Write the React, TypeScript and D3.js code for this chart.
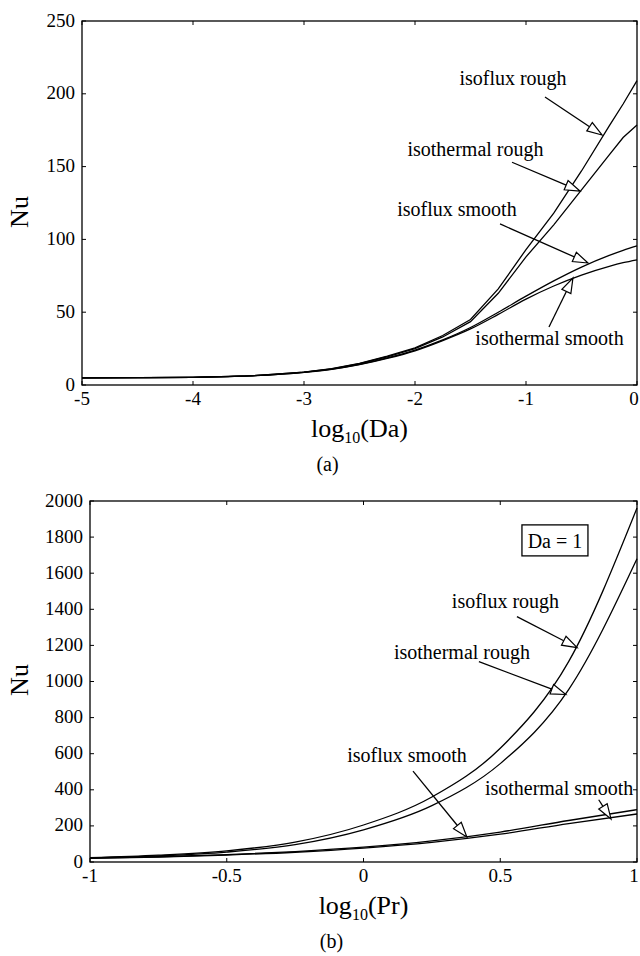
import React from 'react'
import * as d3 from 'd3'

// panel (a): Nu against log10(Da)
const daGrid = [-5, -4.5, -4, -3.5, -3, -2.75, -2.5, -2.25, -2, -1.75, -1.5, -1.25, -1, -0.75, -0.5, -0.25, -0.125, 0]
const daIsofluxRough = [4.9, 5.0, 5.3, 6.2, 8.8, 11.2, 14.8, 19.8, 25.5, 34, 45, 66, 93, 118, 147, 178, 193, 209]
const daIsothermalRough = [4.9, 5.0, 5.3, 6.2, 8.8, 11.1, 14.6, 19.4, 25, 33, 43.5, 63, 88, 110, 134, 158, 170, 178.5]
const daIsofluxSmooth = [4.9, 5.0, 5.3, 6.2, 8.7, 10.9, 14.2, 18.6, 24, 31, 39.5, 50, 61, 71.5, 81, 89, 92.5, 95.5]
const daIsothermalSmooth = [4.9, 5.0, 5.3, 6.2, 8.7, 10.8, 14, 18.3, 23.5, 30.5, 38.5, 48.5, 59, 68, 75.5, 81.5, 84, 86]
const daXTicks = [-5, -4, -3, -2, -1, 0]
const daYTicks = [0, 50, 100, 150, 200, 250]

// panel (b): Nu against log10(Pr), Da = 1
const prGrid = [-1, -0.75, -0.5, -0.25, 0, 0.25, 0.5, 0.75, 1]
const prIsofluxRough = [24, 38, 62, 110, 205, 360, 630, 1110, 1961]
const prIsothermalRough = [22, 34, 55, 96, 178, 312, 545, 955, 1680]
const prIsofluxSmooth = [21, 29, 41, 58, 82, 117, 166, 230, 290]
const prIsothermalSmooth = [20, 27.5, 38.5, 54, 77, 109, 154, 213, 266]
const prXTicks = [-1, -0.5, 0, 0.5, 1]
const prYTicks = [0, 200, 400, 600, 800, 1000, 1200, 1400, 1600, 1800, 2000]

// annotation labels: text anchor, arrow tail and arrow tip, in data units
const daNotes = [
  { text: 'isoflux rough', at: [-1.117, 206], from: [-0.829, 197.8], tip: [-0.315, 171.7] },
  { text: 'isothermal rough', at: [-1.455, 157], from: [-1.126, 153], tip: [-0.514, 133.2] },
  { text: 'isoflux smooth', at: [-1.622, 116], from: [-1.234, 110.6], tip: [-0.441, 83.8] },
  { text: 'isothermal smooth', at: [-0.788, 27.5], from: [-0.793, 39.8], tip: [-0.577, 73.5] },
]
const prNotes = [
  { text: 'isoflux rough', at: [0.519, 1409], from: [0.561, 1359], tip: [0.781, 1188] },
  { text: 'isothermal rough', at: [0.36, 1127], from: [0.422, 1110], tip: [0.74, 928] },
  { text: 'isoflux smooth', at: [0.159, 552], from: [0.181, 503], tip: [0.378, 138] },
  { text: 'isothermal smooth', at: [0.715, 370], from: [0.86, 345], tip: [0.905, 238] },
]

const FONT = '"Liberation Serif", "Times New Roman", serif'

const Arrow = ({ x1, y1, x2, y2 }) => {
  const len = Math.hypot(x2 - x1, y2 - y1)
  const ux = (x2 - x1) / len
  const uy = (y2 - y1) / len
  const head = 15
  const half = 5
  const bx = x2 - ux * head
  const by = y2 - uy * head
  const pts = [
    [x2, y2],
    [bx - uy * half, by + ux * half],
    [bx + uy * half, by - ux * half],
  ]
  return (
    <g>
      {len > head && <line x1={x1} y1={y1} x2={bx} y2={by} stroke="#000" strokeWidth={1.3} />}
      <polygon points={pts.map(p => p.join(',')).join(' ')} fill="#fff" stroke="#000" strokeWidth={1.2} />
    </g>
  )
}

const Panel = ({ box, xDomain, yDomain, xTicks, yTicks, grid, series, notes, xName, tag, nuY, children }) => {
  const x = d3.scaleLinear().domain(xDomain).range([box.left, box.right])
  const y = d3.scaleLinear().domain(yDomain).range([box.bottom, box.top])
  const cx = (box.left + box.right) / 2

  return (
    <g fontFamily={FONT} fill="#000">
      {series.map((s, i) => {
        const line = d3.line<number>()
          .x((_, j) => x(grid[j]))
          .y(d => y(d))
          .curve(s.curve)
        return <path key={i} d={line(s.values) || ''} fill="none" stroke="#000" strokeWidth={1.3} />
      })}

      <rect x={box.left} y={box.top} width={box.right - box.left} height={box.bottom - box.top}
        fill="none" stroke="#000" strokeWidth={1.3} />

      {xTicks.map((t, i) => (
        <g key={'x' + t}>
          <line x1={x(t)} x2={x(t)} y1={box.bottom} y2={box.bottom - 4} stroke="#000" />
          <line x1={x(t)} x2={x(t)} y1={box.top} y2={box.top + 4} stroke="#000" />
          <text x={i === xTicks.length - 1 ? x(t) - 3 : x(t)} y={box.bottom + 20} fontSize={19} textAnchor="middle">{String(t)}</text>
        </g>
      ))}
      {yTicks.map(t => (
        <g key={'y' + t}>
          <line x1={box.left} x2={box.left + 4} y1={y(t)} y2={y(t)} stroke="#000" />
          <line x1={box.right} x2={box.right - 4} y1={y(t)} y2={y(t)} stroke="#000" />
          <text x={box.left - 7} y={y(t) + 5.5} fontSize={19} textAnchor="end">{String(t)}</text>
        </g>
      ))}

      {notes.map(n => (
        <g key={n.text}>
          <text x={x(n.at[0])} y={y(n.at[1])} fontSize={20} textAnchor="middle">{n.text}</text>
          <Arrow x1={x(n.from[0])} y1={y(n.from[1])} x2={x(n.tip[0])} y2={y(n.tip[1])} />
        </g>
      ))}

      <text transform={`translate(28, ${nuY}) rotate(-90)`} fontSize={26} textAnchor="middle">Nu</text>
      <text x={cx} y={box.bottom + 52} fontSize={26} textAnchor="middle">
        log<tspan fontSize={16} dy={6}>10</tspan><tspan dy={-6}>({xName})</tspan>
      </text>
      <text x={cx - 32} y={box.bottom + 86} fontSize={20} textAnchor="middle">{tag}</text>
      {children && children(x, y)}
    </g>
  )
}

const App = () => {
  return (
    <svg width={640} height={956} style={{ position: 'absolute', left: 0, top: 0, background: '#fff' }}>
      <Panel
        box={{ left: 82, right: 637, top: 21, bottom: 385 }}
        xDomain={[-5, 0]}
        yDomain={[0, 250]}
        xTicks={daXTicks}
        yTicks={daYTicks}
        grid={daGrid}
        series={[
          { values: daIsofluxRough, curve: d3.curveLinear },
          { values: daIsothermalRough, curve: d3.curveLinear },
          { values: daIsofluxSmooth, curve: d3.curveMonotoneX },
          { values: daIsothermalSmooth, curve: d3.curveMonotoneX },
        ]}
        notes={daNotes}
        xName="Da"
        tag="(a)"
        nuY={212}
      />
      <Panel
        box={{ left: 90, right: 637, top: 501, bottom: 862 }}
        xDomain={[-1, 1]}
        yDomain={[0, 2000]}
        xTicks={prXTicks}
        yTicks={prYTicks}
        grid={prGrid}
        series={[
          { values: prIsofluxRough, curve: d3.curveMonotoneX },
          { values: prIsothermalRough, curve: d3.curveMonotoneX },
          { values: prIsofluxSmooth, curve: d3.curveMonotoneX },
          { values: prIsothermalSmooth, curve: d3.curveMonotoneX },
        ]}
        notes={prNotes}
        xName="Pr"
        tag="(b)"
        nuY={680}
      >
        {(x, y) => (
          <g>
            <rect x={x(0.7) - 33} y={y(1779) - 16} width={66} height={31} fill="#fff" stroke="#000" strokeWidth={1.3} />
            <text x={x(0.7)} y={y(1779) + 7} fontSize={20} textAnchor="middle">Da = 1</text>
          </g>
        )}
      </Panel>
    </svg>
  )
}

export default App
